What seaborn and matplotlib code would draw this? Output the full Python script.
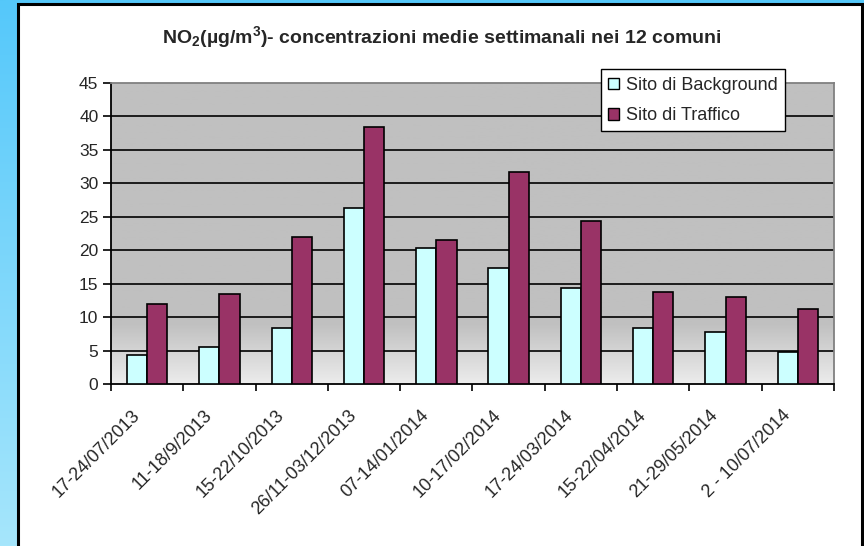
import numpy as np
import pandas as pd
import matplotlib
matplotlib.use("Agg")
import matplotlib.pyplot as plt
from matplotlib.patches import Rectangle, Patch
from matplotlib.colors import LinearSegmentedColormap
from matplotlib.transforms import ScaledTranslation
import seaborn as sns

# Weekly NO2 averages (µg/m3) across the 12 municipalities
periods = [
    "17-24/07/2013", "11-18/9/2013", "15-22/10/2013", "26/11-03/12/2013",
    "07-14/01/2014", "10-17/02/2014", "17-24/03/2014", "15-22/04/2014",
    "21-29/05/2014", "2 - 10/07/2014",
]
background = [4.3, 5.6, 8.4, 26.3, 20.4, 17.4, 14.3, 8.4, 7.7, 4.8]
traffic = [12.0, 13.5, 22.0, 38.4, 21.5, 31.7, 24.3, 13.8, 13.0, 11.2]
series_names = ["Sito di Background", "Sito di Traffico"]
y_ticks = list(range(0, 50, 5))

df = pd.DataFrame({
    "periodo": periods * 2,
    "valore": background + traffic,
    "sito": [series_names[0]] * len(periods) + [series_names[1]] * len(periods),
})

sns.set_theme(style="white")
plt.rcParams["font.family"] = ["Liberation Sans", "DejaVu Sans"]
plt.rcParams["mathtext.fontset"] = "custom"
plt.rcParams["mathtext.rm"] = "Liberation Sans:bold"
plt.rcParams["mathtext.it"] = "Liberation Sans:bold"
plt.rcParams["mathtext.bf"] = "Liberation Sans:bold"

W, H = 864, 546
fig = plt.figure(figsize=(W / 100, H / 100), dpi=100)

# Blue backdrop with a soft vertical gradient
bg_ax = fig.add_axes([0, 0, 1, 1], zorder=-10)
bg_ax.set_axis_off()
blue = LinearSegmentedColormap.from_list("blue", ["#55c8fa", "#a6e6fc"])
bg_ax.imshow(np.linspace(0, 1, 256).reshape(-1, 1), cmap=blue, aspect="auto",
             extent=[0, 1, 0, 1], origin="upper")
bg_ax.set_xlim(0, 1)
bg_ax.set_ylim(0, 1)

# White chart panel with black border
bg_ax.add_patch(Rectangle((18 / W, -0.02), (862 - 18) / W, 1.02 - 4 / H,
                          facecolor="white", edgecolor="black", linewidth=2.2,
                          transform=bg_ax.transAxes, zorder=5))

ax = fig.add_axes([111 / W, 1 - 384 / H, (834 - 111) / W, (384 - 83) / H])

# Plot-area fill: flat grey that lightens towards the baseline
plot_fill = LinearSegmentedColormap.from_list(
    "fill", [(0, "#ececec"), (9 / 45, "#c0c0c0"), (1, "#c0c0c0")])
ax.imshow(np.linspace(0, 1, 256).reshape(-1, 1), cmap=plot_fill, aspect="auto",
          extent=[-0.5, len(periods) - 0.5, 0, 45], origin="lower", zorder=0)

sns.barplot(data=df, x="periodo", y="valore", hue="sito", order=periods,
            palette=["#ccffff", "#993366"], saturation=1, edgecolor="black",
            linewidth=1.2, width=0.56, ax=ax, zorder=3, legend=False)

ax.set_xlim(-0.5, len(periods) - 0.5)
ax.set_ylim(0, 45)
ax.set_yticks(y_ticks)
ax.set_yticklabels([str(t) for t in y_ticks], fontsize=12.5)
for t in y_ticks[1:-1]:
    ax.axhline(t, color="black", linewidth=1.2, zorder=1)

ax.set_xticks(range(len(periods)))
ax.set_xticklabels(periods, rotation=45, ha="right", rotation_mode="anchor",
                   fontsize=13)
ax.set_xticks(np.arange(-0.5, len(periods)), minor=True)
ax.tick_params(axis="x", which="major", length=0, pad=7)
ax.tick_params(axis="x", which="minor", length=5, width=1.2, color="black",
               direction="out", bottom=True)
ax.tick_params(axis="y", length=6, width=1.2, color="black", direction="out",
               left=True, pad=3)
# pull the slanted labels back a little from the axis
shift = ScaledTranslation(-16 / 100, -13 / 100, fig.dpi_scale_trans)
for lbl in ax.get_xticklabels():
    lbl.set_transform(lbl.get_transform() + shift)
ax.set_xlabel("")
ax.set_ylabel("")

for side in ("left", "bottom"):
    ax.spines[side].set_color("black")
    ax.spines[side].set_linewidth(1.3)
for side in ("top", "right"):
    ax.spines[side].set_color("#808080")
    ax.spines[side].set_linewidth(1.3)
    ax.spines[side].set_visible(True)

handles = [Patch(facecolor="#ccffff", edgecolor="black", linewidth=1.0),
           Patch(facecolor="#993366", edgecolor="black", linewidth=1.0)]
leg = ax.legend(handles, series_names, loc="upper right",
                bbox_to_anchor=(0.932, 1.045), fontsize=13, frameon=True,
                fancybox=False, edgecolor="black", framealpha=1,
                handlelength=0.6, handleheight=0.6, handletextpad=0.4,
                borderpad=0.4, labelspacing=0.75, borderaxespad=0)
leg.get_frame().set_linewidth(1.0)
leg.set_zorder(10)

fig.text(442 / W, 1 - 37 / H,
         r"NO$_2$(µg/m$^3$)- concentrazioni medie settimanali nei 12 comuni",
         ha="center", va="center", fontsize=14, fontweight="bold")

fig.savefig("out.png", dpi=100)
